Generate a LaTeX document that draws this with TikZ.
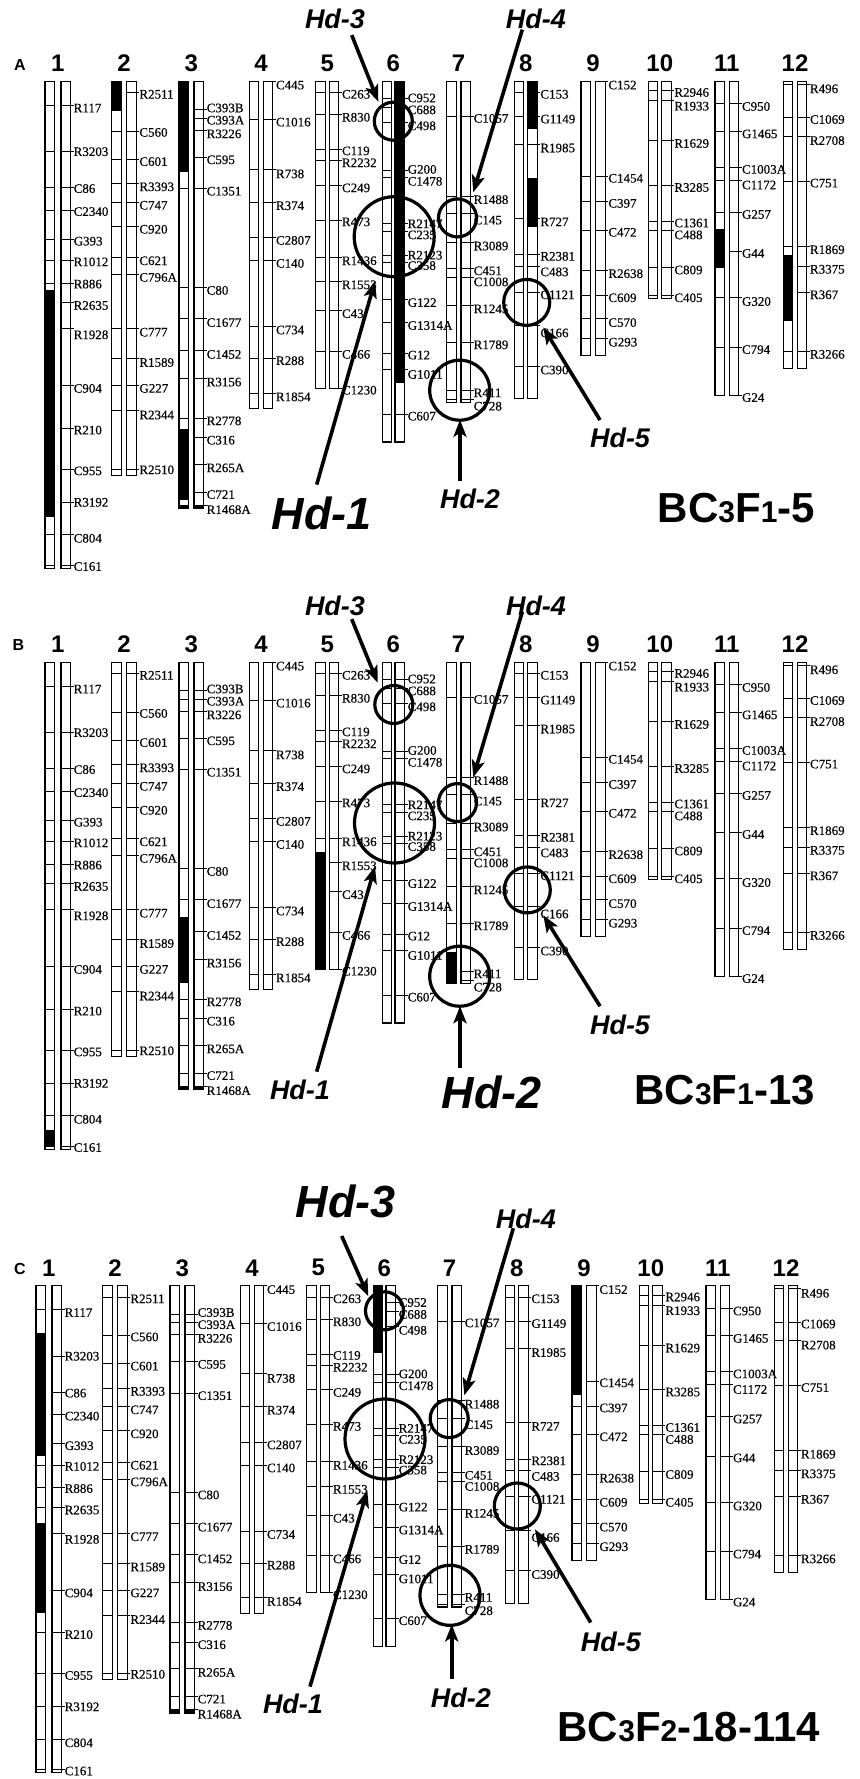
\documentclass[tikz,border=0pt]{standalone}
\usepackage{fontspec}
\setmainfont{Liberation Serif}
\newfontfamily\labfont[FakeBold=0.35]{Liberation Serif}
\newfontfamily\hsans{Liberation Sans}
\usetikzlibrary{arrows.meta}

\newcommand\bw{9.5}
\newcommand\ctop{81.4}

\tikzset{
  bar/.style={draw=black, line width=1.1pt},
  tickln/.style={draw=black, line width=0.9pt},
  lab/.style={anchor=west, inner sep=0pt, font=\labfont\fontsize{13}{13}\selectfont},
  chnum/.style={font=\hsans\bfseries\fontsize{24}{24}\selectfont, inner sep=0pt},
  panlab/.style={font=\hsans\bfseries\fontsize{16}{16}\selectfont, inner sep=0pt},
  hdsmall/.style={font=\hsans\bfseries\itshape\fontsize{27}{27}\selectfont, inner sep=0pt},
  hdbig/.style={font=\hsans\bfseries\itshape\fontsize{45}{45}\selectfont, inner sep=0pt},
  hdarrow/.style={line width=3.6pt, -{Stealth[length=17pt,width=13pt,inset=4pt]}},
  hdcirc/.style={draw, line width=3.2pt, circle, inner sep=0pt},
  blk/.style={fill=black},
  titl/.style={font=\hsans\bfseries\fontsize{42}{42}\selectfont, inner sep=0pt, anchor=east},
}
\newcommand\sm[1]{{\fontsize{30}{30}\selectfont #1}}

\newcommand\chromo[6]{%
  \foreach \ty/\nm/\ly in {#6} {
    \draw[tickln] (#3,\ty) -- ++(\bw,0);
    \draw[tickln] (#4,\ty) -- ++(\bw+3,0);
    \node[lab] (#1-\nm) at ({#4+\bw+3},\ly) {\nm};
  }
  \draw[bar] (#3,\ctop) rectangle ({#3+\bw},#5);
  \draw[bar] (#4,\ctop) rectangle ({#4+\bw},#5);
  \node[chnum] (#1-n#2) at ({(#3+#4+\bw)/2},63.3) {#2};
}

\newcommand\allchrom[1]{%
  \fill[blk] (179,504.5) rectangle (188.5,508.6);
  \fill[blk] (194,504.5) rectangle (203.5,508.6);
  \chromo{#1}{1}{45}{61}{568.3}{105.4/R117/108.0, 151.7/R3203/151.7, 187.5/C86/188.6, 210.1/C2340/211.6, 239.3/G393/241.2, 260.8/R1012/261.9, 283.0/R886/284.1, 302.6/R2635/305.5, 328.5/R1928/334.8, 385.8/C904/388.4, 428.3/R210/430.1, 469.0/C955/470.9, 502.0/R3192/502.3, 534.5/C804/538.3, 565.0/C161/566.5}
  \chromo{#1}{2}{111.7}{126.7}{475.3}{92.5/R2511/94.3, 131.3/C560/132.4, 159.1/C601/161.6, 183.8/R3393/186.8, 202.3/C747/205.3, 226.4/C920/229.3, 257.8/C621/260.8, 274.5/C796A/277.4, 328.5/C777/332.2, 358.8/R1589/362.5, 385.8/G227/388.4, 410.6/R2344/415.0, 469.0/R2510/469.8}
  \chromo{#1}{3}{179}{194}{508.6}{109.9/C393B/108.0, 118.4/C393A/120.2, 130.2/R3226/133.9, 157.2/C595/159.8, 188.6/C1351/191.2, 287.8/C80/290.4, 318.9/C1677/322.6, 350.3/C1452/354.4, 378.0/R3156/382.1, 418.0/R2778/420.9, 437.6/C316/440.2, 464.2/R265A/467.9, 492.0/C721/494.6, 505.0/R1468A/509.7}
  \chromo{#1}{4}{249.3}{263.3}{408.7}{81.4/C445/85.1, 119.1/C1016/122.1, 169.4/R738/173.9, 202.3/R374/205.7, 237.5/C2807/240.4, 260.8/C140/263.4, 326.6/C734/330.0, 358.8/R288/360.7, 393.2/R1854/396.9}
  \chromo{#1}{5}{315.7}{329.3}{388.4}{92.5/C263/94.3, 114.7/R830/117.3, 149.8/C119/150.9, 160.9/R2232/162.8, 185.0/C249/187.9, 220.1/R473/221.9, 257.1/R1436/260.8, 281.9/R1553/284.8, 310.7/C43/313.7, 351.4/C466/354.4, 388.4/C1230/390.2}
  \chromo{#1}{6}{382.3}{395}{442}{98.0/C952/98.0, 107.3/C688/109.9, 122.1/C498/125.8, 170.2/G200/169.4, 177.6/C1478/181.3, 223.8/R2147/223.8, 231.2/C235/234.9, 255.2/R2123/255.2, 262.6/C358/265.6, 299.6/G122/302.6, 322.6/G1314A/325.5, 353.3/G12/355.1, 369.9/G1011/374.4, 414.3/C607/416.2}
  \chromo{#1}{7}{446.7}{461}{402.5}{116.5/C1057/118.4, 196.0/R1488/199.7, 213.8/C145/220.1, 242.3/R3089/246.0, 268.2/C451/270.8, 277.4/C1008/281.9, 305.2/R1245/308.9, 342.2/R1789/344.8, 390.2/R411/392.8, 399.5/C728/406.2}
  \chromo{#1}{8}{514.3}{527.7}{398.7}{92.5/C153/94.3, 116.5/G1149/119.1, 144.3/R1985/148.0, 218.2/R727/221.9, 254.5/R2381/256.3, 266.3/C483/271.9, 292.2/C1121/294.8, 325.5/C166/333.0, 366.2/C390/370.0}
  \chromo{#1}{9}{581}{595.7}{355.8}{81.4/C152/85.1, 176.8/C1454/178.3, 201.6/C397/203.4, 230.1/C472/232.3, 270.0/R2638/273.7, 295.2/C609/297.8, 318.9/C570/322.6, 338.5/G293/342.2}
  \chromo{#1}{10}{648.3}{661.7}{298.9}{90.6/R2946/92.5, 100.6/R1933/106.2, 140.6/R1629/143.5, 185.0/R3285/187.5, 221.2/C1361/223.0, 230.1/C488/234.9, 267.1/C809/270.0, 295.2/C405/297.8}
  \chromo{#1}{11}{715}{729.3}{395.1}{103.6/C950/106.5, 131.3/G1465/133.9, 167.2/C1003A/169.4, 180.1/C1172/185.0, 212.0/G257/214.5, 251.5/G44/253.4, 297.8/G320/301.5, 347.0/C794/349.6, 395.1/G24/397.6}
  \chromo{#1}{12}{783.3}{797.3}{368.1}{84.3/R496/88.8, 117.6/C1069/119.5, 136.1/R2708/140.6, 181.3/C751/183.1, 246.0/R1869/249.7, 266.0/R3375/269.3, 292.2/R367/294.8, 351.4/R3266/354.4}
}

\begin{document}
\begin{tikzpicture}[x=1pt,y=-1pt]
\fill[white] (0,0) rectangle (859,1779);
\useasboundingbox (0,0) rectangle (859,1779);

% ---------------- Panel A ----------------
\begin{scope}
  \fill[blk] (45,290.4) rectangle (54.5,517.3);
  \fill[blk] (111.7,81.4) rectangle (121.2,111);
  \fill[blk] (179,81.4) rectangle (188.5,172);
  \fill[blk] (179,429.1) rectangle (188.5,500);
  \fill[blk] (395,81.4) rectangle (404.5,382.8);
  \fill[blk] (527.7,81.4) rectangle (537.2,129.5);
  \fill[blk] (527.7,177.6) rectangle (537.2,227.5);
  \fill[blk] (715,229.3) rectangle (724.5,268.2);
  \fill[blk] (783.3,255.2) rectangle (792.8,321.1);
  \allchrom{A}
\end{scope}
\node[panlab] (pA) at (20,65) {A};
\node[hdsmall] (A-h3) at (335,19) {Hd-3};
\node[hdsmall] (A-h4) at (535.8,19) {Hd-4};
\node[hdbig] (A-h1) at (321.7,513.3) {Hd-1};
\node[hdsmall] (A-h2) at (470,498.5) {Hd-2};
\node[hdsmall] (A-h5) at (620,438.3) {Hd-5};
\node[titl] (A-t) at (815,507.7) {BC\sm{3}F\sm{1}-5};
\node[hdcirc, minimum size=38pt] (A-c3) at (393.3,121.2) {};
\node[hdcirc, minimum size=80pt] (A-c1) at (394.2,236.7) {};
\node[hdcirc, minimum size=38pt] (A-c4) at (457.5,217.9) {};
\node[hdcirc, minimum size=60pt] (A-c2) at (459.7,390.2) {};
\node[hdcirc, minimum size=46pt] (A-c5) at (526.7,302.4) {};
\coordinate (A-a3s) at (351.7,35.1); \coordinate (A-a3e) at (378.3,101.7);
\coordinate (A-a4s) at (522.3,29.6); \coordinate (A-a4e) at (473.3,192.3);
\coordinate (A-a1s) at (316.7,484.6); \coordinate (A-a1e) at (375,281.1);
\coordinate (A-a2s) at (460,480.9); \coordinate (A-a2e) at (460,419.8);
\coordinate (A-a5s) at (600,420); \coordinate (A-a5e) at (543.3,327.4);
\draw[hdarrow] (A-a3s) -- (A-a3e);
\draw[hdarrow] (A-a4s) -- (A-a4e);
\draw[hdarrow] (A-a1s) -- (A-a1e);
\draw[hdarrow] (A-a2s) -- (A-a2e);
\draw[hdarrow] (A-a5s) -- (A-a5e);

% ---------------- Panel B ----------------
\begin{scope}[shift={(0,581)}]
  \fill[blk] (45,548.8) rectangle (54.5,565);
  \fill[blk] (179,336.2) rectangle (188.5,401.6);
  \fill[blk] (315.7,270.7) rectangle (325.2,388.4);
  \fill[blk] (446.7,370.7) rectangle (456.2,402.5);
  \allchrom{B}
\end{scope}
\node[panlab] (pB) at (18.3,644.5) {B};
\node[hdsmall] (B-h3) at (335,605.4) {Hd-3};
\node[hdsmall] (B-h4) at (536,605.4) {Hd-4};
\node[hdsmall] (B-h1) at (300,1090) {Hd-1};
\node[hdbig] (B-h2) at (491.7,1092.5) {Hd-2};
\node[hdsmall] (B-h5) at (620,1025.3) {Hd-5};
\node[titl] (B-t) at (815,1089.8) {BC\sm{3}F\sm{1}-13};
\node[hdcirc, minimum size=38pt] (B-c3) at (393.8,704.5) {};
\node[hdcirc, minimum size=80pt] (B-c1) at (394.5,823) {};
\node[hdcirc, minimum size=38pt] (B-c4) at (457.5,802.6) {};
\node[hdcirc, minimum size=60pt] (B-c2) at (459.7,976.2) {};
\node[hdcirc, minimum size=46pt] (B-c5) at (527.3,889.9) {};
\coordinate (B-a3s) at (351.7,619.1); \coordinate (B-a3e) at (377.7,682.7);
\coordinate (B-a4s) at (522.3,611.8); \coordinate (B-a4e) at (473.3,777.2);
\coordinate (B-a1s) at (316.7,1071.7); \coordinate (B-a1e) at (375,866.3);
\coordinate (B-a2s) at (460,1068); \coordinate (B-a2e) at (460,1006.2);
\coordinate (B-a5s) at (600,1006.2); \coordinate (B-a5e) at (543.3,915.3);
\draw[hdarrow] (B-a3s) -- (B-a3e);
\draw[hdarrow] (B-a4s) -- (B-a4e);
\draw[hdarrow] (B-a1s) -- (B-a1e);
\draw[hdarrow] (B-a2s) -- (B-a2e);
\draw[hdarrow] (B-a5s) -- (B-a5e);

% ---------------- Panel C ----------------
\begin{scope}[shift={(-9,1204.5)}]
  \fill[blk] (45,128.6) rectangle (54.5,251);
  \fill[blk] (45,318.9) rectangle (54.5,408.3);
  \fill[blk] (382.3,81.4) rectangle (391.8,148);
  \fill[blk] (581,81.4) rectangle (590.5,190);
  \allchrom{C}
\end{scope}
\node[panlab] (pC) at (20,1269) {C};
\node[hdbig] (C-h3) at (345.8,1201.1) {Hd-3};
\node[hdsmall] (C-h4) at (525.8,1218.5) {Hd-4};
\node[hdsmall] (C-h1) at (293,1704) {Hd-1};
\node[hdsmall] (C-h2) at (460.8,1698.3) {Hd-2};
\node[hdsmall] (C-h5) at (610.8,1641.9) {Hd-5};
\node[titl] (C-t) at (820,1727.3) {BC\sm{3}F\sm{2}-18-114};
\node[hdcirc, minimum size=38pt] (C-c3) at (384.5,1310.8) {};
\node[hdcirc, minimum size=80pt] (C-c1) at (385,1439) {};
\node[hdcirc, minimum size=38pt] (C-c4) at (449.2,1418.6) {};
\node[hdcirc, minimum size=60pt] (C-c2) at (450,1595.3) {};
\node[hdcirc, minimum size=46pt] (C-c5) at (517.3,1506) {};
\coordinate (C-a3s) at (341.7,1236); \coordinate (C-a3e) at (368.3,1296.2);
\coordinate (C-a4s) at (513.3,1228.3); \coordinate (C-a4e) at (464.3,1395.3);
\coordinate (C-a1s) at (310,1686.6); \coordinate (C-a1e) at (367.3,1490.4);
\coordinate (C-a2s) at (451.7,1678.8); \coordinate (C-a2e) at (451.7,1624.4);
\coordinate (C-a5s) at (590.7,1622.5); \coordinate (C-a5e) at (535,1529.3);
\draw[hdarrow] (C-a3s) -- (C-a3e);
\draw[hdarrow] (C-a4s) -- (C-a4e);
\draw[hdarrow] (C-a1s) -- (C-a1e);
\draw[hdarrow] (C-a2s) -- (C-a2e);
\draw[hdarrow] (C-a5s) -- (C-a5e);
\end{tikzpicture}
\end{document}
